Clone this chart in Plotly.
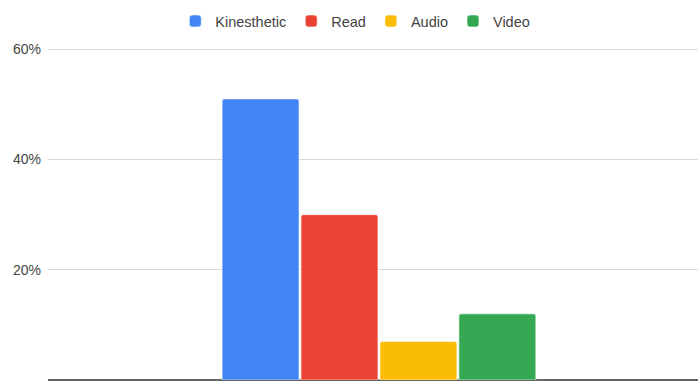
import plotly.graph_objects as go

categories = ["Learning style"]
series_names = ["Kinesthetic", "Read", "Audio", "Video"]
series_values = [0.51, 0.30, 0.07, 0.12]
colors = ["#4285F4", "#EA4335", "#FBBC04", "#34A853"]
y_ticks = [0, 0.2, 0.4, 0.6]
y_tick_labels = ["0%", "20%", "40%", "60%"]

fig = go.Figure()
for name, val, col in zip(series_names, series_values, colors):
    fig.add_trace(go.Bar(
        x=categories, y=[val], name=name,
        marker=dict(color=col, line=dict(color="rgba(255,255,255,0.6)", width=1)),
    ))

fig.update_layout(
    width=698, height=383,
    margin=dict(l=48, r=0, t=46, b=3),
    paper_bgcolor="white", plot_bgcolor="white",
    barmode="group", bargap=0.523, bargroupgap=0.025, barcornerradius=2,
    font=dict(family="Liberation Sans, Arial, sans-serif", size=14, color="#444"),
    legend=dict(
        orientation="h", xref="container", yref="container",
        x=0.509, xanchor="center", y=0.945, yanchor="middle",
        font=dict(size=14.5, color="#444"), itemclick=False,
    ),
    showlegend=True,
)
fig.update_xaxes(range=[-0.5, 0.482], showticklabels=False, showgrid=False,
                 zeroline=False, showline=False)
fig.update_yaxes(range=[0, 0.606], tickvals=y_ticks, ticktext=y_tick_labels,
                 showgrid=True, gridcolor="#d9d9d9", gridwidth=1,
                 zeroline=True, zerolinecolor="#666", zerolinewidth=2,
                 showline=False, ticks="", ticklabelstandoff=6)

fig.write_html(
    "out.html",
    config={"displayModeBar": False},
    post_script="document.body.style.margin='0';document.body.style.overflow='hidden';",
)
